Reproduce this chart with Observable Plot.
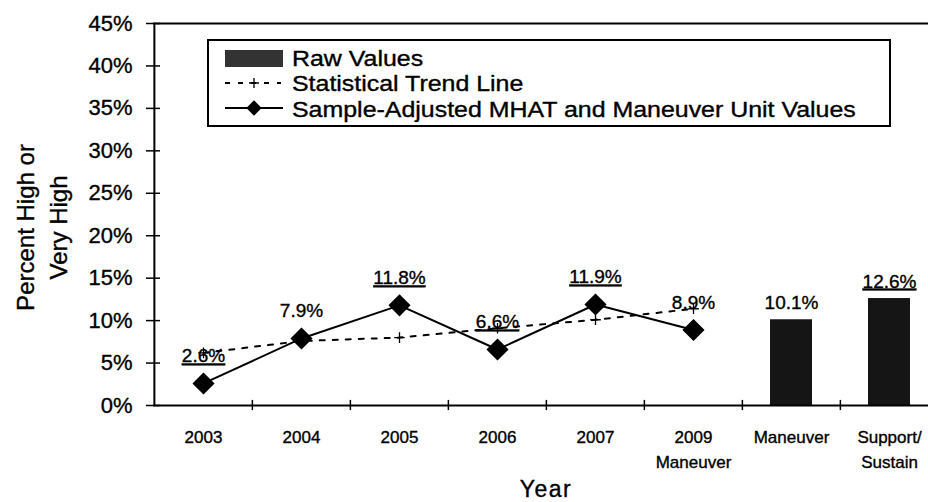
<!DOCTYPE html>
<html>
<head>
<meta charset="utf-8">
<script src="https://cdn.jsdelivr.net/npm/d3@7"></script>
<script src="https://cdn.jsdelivr.net/npm/@observablehq/plot@0.6"></script>
<style>
  html, body { margin: 0; padding: 0; background: #fff; }
  #chart { width: 928px; height: 502px; overflow: hidden; }
  #chart svg text { stroke: black; stroke-width: 0.35px; }
</style>
</head>
<body>
<div id="chart"></div>
<script>
// ---- Data ----
const categories = ["2003", "2004", "2005", "2006", "2007", "2009\nManeuver", "Maneuver", "Support/\nSustain"];
const mhatCategories = ["2003", "2004", "2005", "2006", "2007", "2009\nManeuver"];
const mhatValues = [2.6, 7.9, 11.8, 6.6, 11.9, 8.9];
const mhatUnderlined = [true, false, true, true, true, false];
const trendValues = [6.2, 7.6, 8.0, 9.1, 10.1, 11.4];
const rawCategories = ["Maneuver", "Support/\nSustain"];
const rawValues = [10.1, 12.6];
const rawUnderlined = [false, true];
const yTicks = [0, 5, 10, 15, 20, 25, 30, 35, 40, 45];
const legendLabels = ["Raw Values", "Statistical Trend Line", "Sample-Adjusted MHAT and Maneuver Unit Values"];
const yTitle = "Percent High or\nVery High";
const xTitle = "Year";

const fmt = v => d3.format(".1f")(v) + "%";
const mhat = mhatCategories.map((c, i) => ({cat: c, value: mhatValues[i], label: fmt(mhatValues[i]), u: mhatUnderlined[i]}));
const trend = mhatCategories.map((c, i) => ({cat: c, value: trendValues[i]}));
const raw = rawCategories.map((c, i) => ({cat: c, value: rawValues[i], label: fmt(rawValues[i]), u: rawUnderlined[i]}));

const xRange = [153, 939];
const bw = (xRange[1] - xRange[0]) / categories.length;
const font = "'Liberation Sans', Arial, Helvetica, sans-serif";

const chart = Plot.plot({
  width: 928,
  height: 502,
  marginLeft: 153,
  marginRight: 0,
  marginTop: 23,
  marginBottom: 97,
  style: {fontFamily: font, color: "black", background: "white", overflow: "hidden"},
  x: {type: "band", domain: categories, range: xRange, padding: 0, label: null},
  y: {domain: [0, 45], label: null},
  marks: [
    Plot.barY(raw, {x: "cat", y: "value", fill: "#151515", insetLeft: 28, insetRight: 28}),
    // frame lines
    Plot.ruleY([45], {strokeWidth: 2}),
    Plot.ruleY([0], {strokeWidth: 2}),
    Plot.ruleX([categories[0]], {dx: -bw / 2, y1: 0, y2: 45, strokeWidth: 2}),
    // category boundary ticks
    Plot.ruleX(categories.slice(1), {dx: -bw / 2, y1: -0.6, y2: 0.6, strokeWidth: 1.5}),
    // y ticks crossing the axis, then labels
    Plot.axisY({ticks: yTicks, tickSize: 14, dx: 7, tickFormat: () => "", strokeWidth: 1.5}),
    Plot.axisY({ticks: yTicks, tickSize: 0, tickPadding: 21, tickFormat: d => d + "%", fontSize: 22}),
    Plot.axisX({tickSize: 0, tickPadding: 20, fontSize: 17, lineHeight: 1.47}),
    // trend
    Plot.line(trend, {x: "cat", y: "value", stroke: "black", strokeWidth: 2, strokeDasharray: "5,8"}),
    Plot.dot(trend, {x: "cat", y: "value", symbol: "plus", r: 3.5, stroke: "black", strokeWidth: 1.3}),
    // MHAT series
    Plot.line(mhat, {x: "cat", y: "value", stroke: "black", strokeWidth: 2}),
    Plot.dot(mhat, {x: "cat", y: "value", symbol: "diamond2", r: 9, fill: "black", stroke: "black"}),
    // value labels
    Plot.text(mhat, {x: "cat", y: "value", text: "label", dy: -21, lineAnchor: "bottom", fontSize: 19}),
    Plot.text(raw, {x: "cat", y: "value", text: "label", dy: -11, lineAnchor: "bottom", fontSize: 19}),
    // titles
    Plot.text([yTitle], {frameAnchor: "left", textAnchor: "middle", dx: -114, dy: 13, rotate: -90, fontSize: 24, lineHeight: 1.375}),
    Plot.text([xTitle], {frameAnchor: "bottom", textAnchor: "middle", dx: 5, dy: 91, lineAnchor: "bottom", fontSize: 23})
  ]
});

document.getElementById("chart").appendChild(chart);

// underline selected value labels
const underlined = new Set([...mhat, ...raw].filter(d => d.u).map(d => d.label));
d3.select(chart).selectAll("text").filter(function() { return underlined.has(this.textContent); })
  .style("text-decoration", "underline");

// letter spacing for x title
d3.select(chart).selectAll("text").filter(function() { return this.textContent === xTitle; })
  .style("letter-spacing", "1.5px");

// legend
const lg = d3.select(chart).append("g").attr("font-family", font).attr("text-anchor", "start");
lg.append("rect").attr("x", 208).attr("y", 40).attr("width", 682).attr("height", 86)
  .attr("fill", "white").attr("stroke", "black").attr("stroke-width", 2);
lg.append("rect").attr("x", 225).attr("y", 50).attr("width", 58).attr("height", 17).attr("fill", "#333");
lg.append("line").attr("x1", 225).attr("x2", 281).attr("y1", 83).attr("y2", 83)
  .attr("stroke", "black").attr("stroke-width", 2).attr("stroke-dasharray", "5,8");
lg.append("path").attr("d", "M249,83h10M254,78v10").attr("stroke", "black").attr("stroke-width", 1.3);
lg.append("line").attr("x1", 225).attr("x2", 283).attr("y1", 108).attr("y2", 108)
  .attr("stroke", "black").attr("stroke-width", 2);
lg.append("path").attr("d", d3.symbol(d3.symbolDiamond2, 150)()).attr("transform", "translate(254,108)").attr("fill", "black");
const sx = 1.16;
const lt = lg.append("g").attr("transform", `translate(292,0) scale(${sx},1)`).attr("font-size", 21.5);
legendLabels.forEach((t, i) => {
  lt.append("text").attr("x", 0).attr("y", 66 + i * 25.5).text(t);
});
</script>
</body>
</html>
